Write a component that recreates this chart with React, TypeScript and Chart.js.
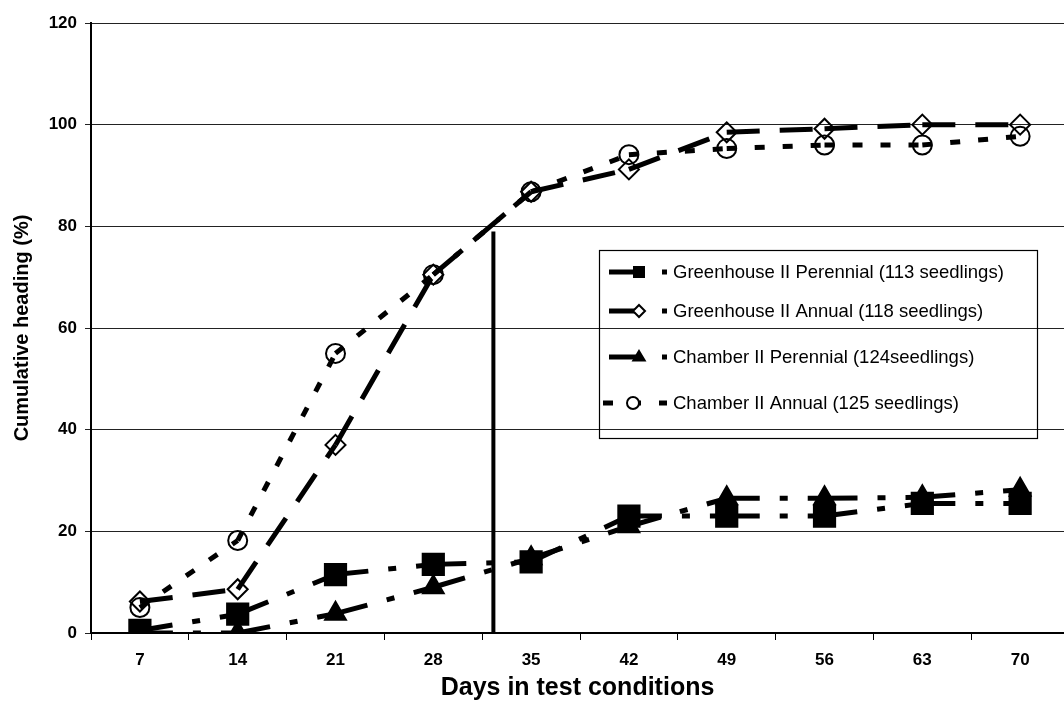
import { useEffect, useRef } from 'react';
import { Chart, registerables } from 'chart.js';

Chart.register(...registerables);

// Days since transfer to test conditions
const days = [7, 14, 21, 28, 35, 42, 49, 56, 63, 70];

// Cumulative heading (%) per population
const greenhousePerennial = [0.5, 3.7, 11.5, 13.5, 14, 23, 23, 23, 25.5, 25.5];
const greenhouseAnnual = [6.2, 8.6, 37, 70.5, 86.8, 91.2, 98.5, 99.2, 100, 100];
const chamberPerennial = [0, 0, 3.8, 9, 14.7, 21, 26.5, 26.5, 26.7, 28.2];
const chamberAnnual = [5, 18.2, 55, 70.5, 86.8, 94.1, 95.3, 96, 96, 97.7];

const seriesLabels = [
  'Greenhouse II Perennial (113 seedlings)',
  'Greenhouse II Annual (118 seedlings)',
  'Chamber II Perennial (124seedlings)',
  'Chamber II Annual (125 seedlings)',
];

const yTicks = [0, 20, 40, 60, 80, 100, 120];

// Reference marker: day and height of the vertical bar
const markerDay = [32.3, 32.3];
const markerLevel = [0, 79];

const FONT = '"Liberation Sans", Arial, Helvetica, sans-serif';

type Marker = 'rect' | 'rectRot' | 'triangle' | 'circle';

const LONG_DASH_DOT = [33, 20, 8, 20];
const LONG_DASH = [33, 20];
const ROUND_DOT = [10, 18];

const seriesStyles: { marker: Marker; radius: number; dash: number[]; hollow: boolean }[] = [
  { marker: 'rect', radius: 15, dash: LONG_DASH_DOT, hollow: false },
  { marker: 'rectRot', radius: 10, dash: LONG_DASH, hollow: true },
  { marker: 'triangle', radius: 12, dash: LONG_DASH_DOT, hollow: false },
  { marker: 'circle', radius: 9.5, dash: ROUND_DOT, hollow: true },
];

function drawMarker(ctx: CanvasRenderingContext2D, marker: Marker, x: number, y: number, r: number, hollow: boolean) {
  ctx.save();
  ctx.setLineDash([]);
  ctx.beginPath();
  if (marker === 'rect') {
    ctx.rect(x - r, y - r, 2 * r, 2 * r);
  } else if (marker === 'rectRot') {
    ctx.moveTo(x, y - r);
    ctx.lineTo(x + r, y);
    ctx.lineTo(x, y + r);
    ctx.lineTo(x - r, y);
    ctx.closePath();
  } else if (marker === 'triangle') {
    ctx.moveTo(x, y - r);
    ctx.lineTo(x + r * 0.95, y + r * 0.6);
    ctx.lineTo(x - r * 0.95, y + r * 0.6);
    ctx.closePath();
  } else {
    ctx.arc(x, y, r, 0, Math.PI * 2);
  }
  ctx.fillStyle = hollow ? '#fff' : '#000';
  ctx.fill();
  ctx.lineWidth = 2;
  ctx.strokeStyle = '#000';
  ctx.stroke();
  ctx.restore();
}

// Boxed legend drawn over the plot (transparent background)
const boxLegend = {
  id: 'boxLegend',
  afterDraw(chart: Chart) {
    const ctx = chart.ctx;
    const left = 599;
    const top = 250;
    const right = 1037;
    const bottom = 438;
    const rows = [272, 311, 357, 403];
    ctx.save();
    ctx.strokeStyle = '#000';
    ctx.lineWidth = 1.2;
    ctx.setLineDash([]);
    ctx.strokeRect(left + 0.5, top + 0.5, right - left, bottom - top);

    seriesLabels.forEach((label, i) => {
      const st = seriesStyles[i];
      const y = rows[i];
      const x0 = i === 3 ? 603 : 609;
      const x1 = 667;
      ctx.save();
      ctx.beginPath();
      ctx.rect(x0, y - 10, x1 - x0, 20);
      ctx.clip();
      ctx.beginPath();
      ctx.setLineDash(st.dash);
      ctx.lineDashOffset = 0;
      ctx.lineCap = 'butt';
      ctx.lineWidth = 5;
      ctx.strokeStyle = '#000';
      ctx.moveTo(x0, y);
      ctx.lineTo(x1, y);
      ctx.stroke();
      ctx.restore();
      const mx = i === 3 ? 633 : 639;
      drawMarker(ctx, st.marker, mx, y, st.marker === 'rect' ? 5 : 6, st.hollow);

      ctx.fillStyle = '#000';
      ctx.font = `18.5px ${FONT}`;
      ctx.textBaseline = 'middle';
      ctx.textAlign = 'left';
      ctx.fillText(label, 673, y + 1);
    });
    ctx.restore();
  },
};

const seriesValues = [greenhousePerennial, greenhouseAnnual, chamberPerennial, chamberAnnual];

export default function App() {
  const ref = useRef<HTMLCanvasElement | null>(null);

  useEffect(() => {
    document.body.style.margin = '0';
    const canvas = ref.current;
    if (!canvas) return;

    const datasets: any[] = seriesValues.map((values, i) => {
      const st = seriesStyles[i];
      return {
        label: seriesLabels[i],
        data: days.map((d, k) => ({ x: d, y: values[k] })),
        borderColor: '#000',
        borderWidth: 5,
        borderDash: st.dash,
        borderCapStyle: 'butt',
        pointStyle: st.marker,
        pointRadius: st.radius,
        pointBorderWidth: 2,
        pointBorderColor: '#000',
        pointBackgroundColor: st.hollow ? 'rgba(0,0,0,0)' : '#000',
        tension: 0,
        fill: false,
        // each segment strokes on its own so the dash restarts at every point
        segment: {
          borderDashOffset: (c: any) => (c.p0DataIndex % 2 ? 0.01 : 0),
        },
      };
    });

    datasets.push({
      label: 'marker',
      data: markerDay.map((d, k) => ({ x: d, y: markerLevel[k] })),
      borderColor: '#000',
      borderWidth: 4,
      pointRadius: 0,
      fill: false,
    });

    const chart = new Chart(canvas, {
      type: 'line',
      data: { datasets },
      plugins: [boxLegend],
      options: {
        animation: false,
        responsive: false,
        devicePixelRatio: 1,
        layout: { padding: { top: 23, right: 0, bottom: 0, left: 0 } },
        plugins: {
          legend: { display: false },
          tooltip: { enabled: false },
        },
        scales: {
          x: {
            type: 'linear',
            min: 3.5,
            max: 73.14,
            afterBuildTicks: (s: any) => {
              s.ticks = days.map((v) => ({ value: v }));
            },
            afterFit: (s: any) => {
              s.height = 80;
            },
            ticks: {
              color: '#000',
              font: { family: FONT, size: 17, weight: 'bold' },
              padding: 10,
              autoSkip: false,
              maxRotation: 0,
            },
            grid: {
              offset: true,
              drawOnChartArea: false,
              color: '#000',
              lineWidth: 1,
              tickLength: 7,
            },
            border: { color: '#000', width: 2 },
            title: {
              display: true,
              text: 'Days in test conditions',
              color: '#000',
              font: { family: FONT, size: 25, weight: 'bold' },
              padding: { top: 0, bottom: 10 },
            },
          },
          y: {
            type: 'linear',
            min: 0,
            max: 120,
            afterBuildTicks: (s: any) => {
              s.ticks = yTicks.map((v) => ({ value: v }));
            },
            afterFit: (s: any) => {
              s.width = 91;
            },
            ticks: {
              color: '#000',
              font: { family: FONT, size: 17, weight: 'bold' },
              padding: 8,
            },
            grid: {
              color: '#222',
              lineWidth: 1,
              tickLength: 6,
            },
            border: { color: '#000', width: 2 },
            title: {
              display: true,
              text: 'Cumulative heading (%)',
              color: '#000',
              font: { family: FONT, size: 20, weight: 'bold' },
              padding: { top: 10, bottom: 0 },
            },
          },
        },
      } as any,
    });

    return () => chart.destroy();
  }, []);

  // the plot runs on past the right edge of the visible frame
  return (
    <div style={{ position: 'absolute', left: 0, top: 0, width: 1064, height: 713, overflow: 'hidden', background: '#fff' }}>
      <canvas ref={ref} width={1081} height={713} />
    </div>
  );
}
